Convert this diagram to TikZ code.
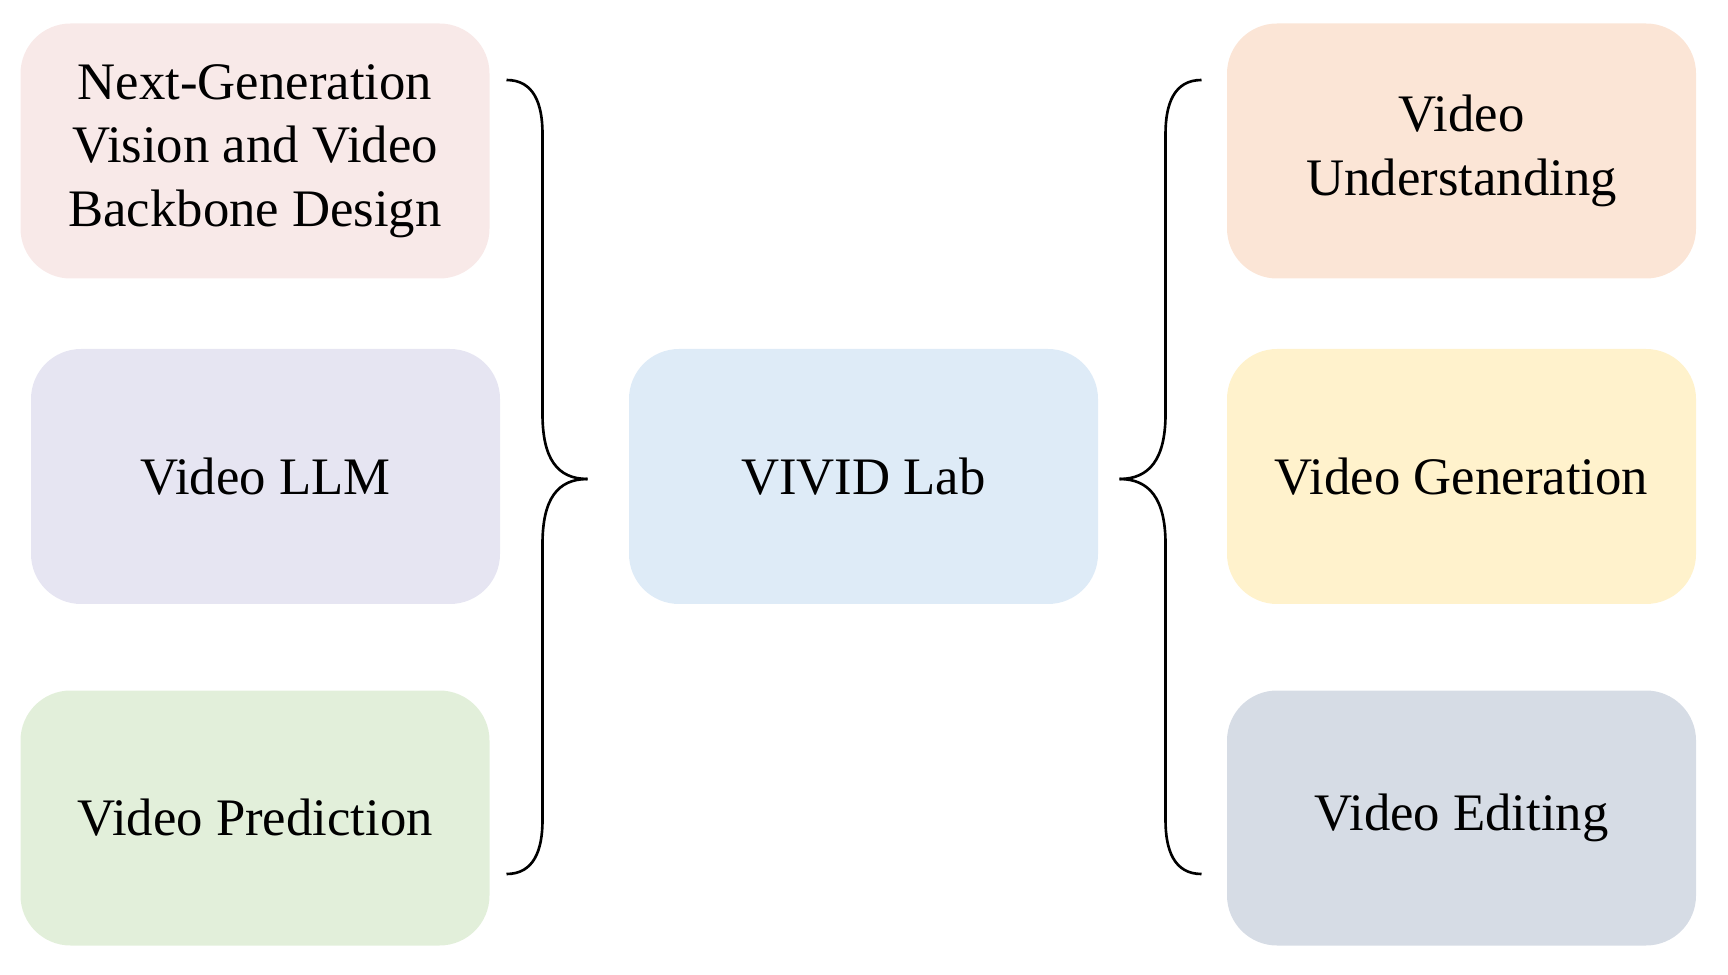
\documentclass[tikz,border=0pt]{standalone}
\usepackage{fontspec}
\setmainfont{Liberation Serif}
\usetikzlibrary{positioning}

\definecolor{pinkbox}{RGB}{248,233,232}
\definecolor{lavbox}{RGB}{230,229,242}
\definecolor{greenbox}{RGB}{226,239,218}
\definecolor{bluebox}{RGB}{222,235,247}
\definecolor{peachbox}{RGB}{251,229,214}
\definecolor{yellowbox}{RGB}{255,242,204}
\definecolor{graybox}{RGB}{214,220,229}

\begin{document}
\begin{tikzpicture}[
  area/.style={rounded corners=1cm,minimum width=9.38cm,minimum height=5.1cm,
    align=center,font=\fontsize{30}{36}\selectfont,inner sep=0pt},
  brace/.style={line width=1.5pt}]

\useasboundingbox (0,0) rectangle (34.56,19.48);

\node[area,fill=pinkbox] (backbone) at (5.1,16.46) {Next-Generation\\Vision and Video\\Backbone Design};
\node[area,fill=lavbox] (llm) at (5.31,9.95) {Video LLM};
\node[area,fill=greenbox] (prediction) at (5.1,3.12) {Video Prediction};

\node[area,fill=bluebox] (vivid) at (17.27,9.95) {VIVID Lab};

\node[area,fill=peachbox] (understanding) at (29.23,16.46) {Video\\Understanding};
\node[area,fill=yellowbox] (generation) at (29.23,9.95) {Video Generation};
\node[area,fill=graybox] (editing) at (29.23,3.12) {Video Editing};

% left brace
\coordinate (ltop) at (10.13,17.88);
\coordinate (lbot) at (10.13,2.0);
\coordinate (ltip) at (11.75,9.9);
\draw[brace] (ltop) .. controls (10.68,17.88) and (10.85,17.4) .. (10.85,16.8)
  -- (10.85,11.2) .. controls (10.85,10.3) and (11.15,9.9) .. (ltip);
\draw[brace] (lbot) .. controls (10.68,2.0) and (10.85,2.48) .. (10.85,3.08)
  -- (10.85,8.6) .. controls (10.85,9.5) and (11.15,9.9) .. (ltip);

% right brace
\coordinate (rtop) at (24.03,17.88);
\coordinate (rbot) at (24.03,2.0);
\coordinate (rtip) at (22.39,9.9);
\draw[brace] (rtop) .. controls (23.48,17.88) and (23.31,17.4) .. (23.31,16.8)
  -- (23.31,11.2) .. controls (23.31,10.3) and (22.99,9.9) .. (rtip);
\draw[brace] (rbot) .. controls (23.48,2.0) and (23.31,2.48) .. (23.31,3.08)
  -- (23.31,8.6) .. controls (23.31,9.5) and (22.99,9.9) .. (rtip);

\end{tikzpicture}
\end{document}
